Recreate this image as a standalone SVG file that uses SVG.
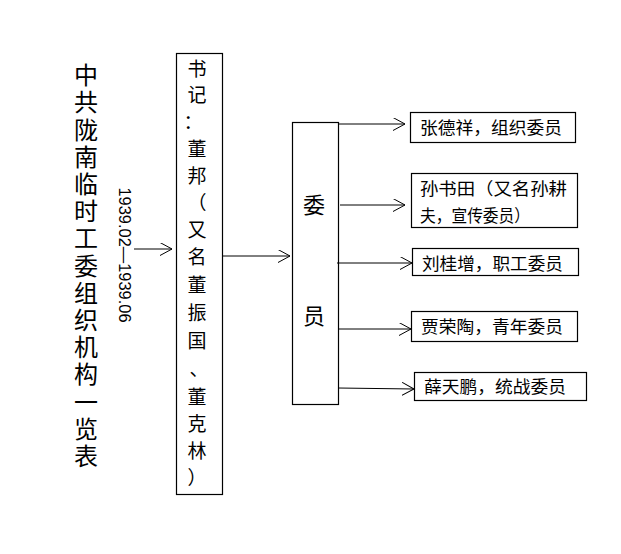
<svg xmlns="http://www.w3.org/2000/svg" width="621" height="554" viewBox="0 0 621 554">
<style>
.box{fill:#fff;stroke:#000;stroke-width:1.2}
.cn{font-family:"Noto Sans CJK SC","Noto Sans CJK JP",sans-serif;fill:#000}
.s{font-size:19px;text-anchor:middle;dominant-baseline:central}
.w{font-size:22px;text-anchor:middle;dominant-baseline:central}
.m{font-size:17px;dominant-baseline:central}
.ln{stroke:#000;stroke-width:1;fill:none}
</style>
<defs>
<marker id="ar" markerUnits="userSpaceOnUse" markerWidth="14" markerHeight="14" refX="12" refY="6.5" orient="auto" viewBox="0 0 14 14">
<path d="M0,0 L12,6.5 L0,13" fill="none" stroke="#000" stroke-width="1"/>
</marker>
</defs>
<rect width="621" height="554" fill="#fff"/>
<g id="title">
<text class="cn" x="86" y="63" font-size="24" writing-mode="vertical-rl" letter-spacing="3.2">中共陇南临时工委组织机构一览表</text>
</g>
<g id="date">
<text x="124" y="255" transform="rotate(90 124 255)" font-family="Liberation Sans, Arial, sans-serif" font-size="16" text-anchor="middle" dominant-baseline="central" textLength="135" lengthAdjust="spacingAndGlyphs">1939.02—1939.06</text>
</g>
<g id="secretary">
<rect class="box" x="176.5" y="53.5" width="46" height="441"/>
<g class="cn s">
<text x="197" y="67">书</text>
<text x="197" y="93">记</text>
<text x="193" y="120">：</text>
<text x="197" y="147">董</text>
<text x="197" y="174">邦</text>
<text x="197" y="201">（</text>
<text x="197" y="228">又</text>
<text x="197" y="255">名</text>
<text x="197" y="283">董</text>
<text x="197" y="311">振</text>
<text x="197" y="339">国</text>
<text x="199" y="367">、</text>
<text x="197" y="395">董</text>
<text x="197" y="422">克</text>
<text x="197" y="449">林</text>
<text x="197" y="476">）</text>
</g>
</g>
<g id="committee">
<rect class="box" x="292.5" y="122.5" width="46" height="282"/>
<text class="cn w" x="314" y="203">委</text>
<text class="cn w" x="314" y="314">员</text>
</g>
<g id="m1">
<rect class="box" x="410.5" y="112.5" width="165" height="30"/>
<text class="cn m" x="420" y="126" textLength="142" lengthAdjust="spacingAndGlyphs">张德祥，组织委员</text>
</g>
<g id="m2">
<rect class="box" x="411.5" y="173.5" width="166" height="54"/>
<text class="cn m" x="420" y="187" textLength="147" lengthAdjust="spacingAndGlyphs">孙书田（又名孙耕</text>
<text class="cn m" x="420" y="214" textLength="110" lengthAdjust="spacingAndGlyphs">夫，宣传委员）</text>
</g>
<g id="m3">
<rect class="box" x="412.5" y="248.5" width="166" height="27"/>
<text class="cn m" x="422" y="262" textLength="141" lengthAdjust="spacingAndGlyphs">刘桂增，职工委员</text>
</g>
<g id="m4">
<rect class="box" x="411.5" y="311.5" width="166" height="30"/>
<text class="cn m" x="421" y="325" textLength="142" lengthAdjust="spacingAndGlyphs">贾荣陶，青年委员</text>
</g>
<g id="m5">
<rect class="box" x="414.5" y="372.5" width="172" height="28"/>
<text class="cn m" x="424" y="385" textLength="142" lengthAdjust="spacingAndGlyphs">薛天鹏，统战委员</text>
</g>
<g id="connectors" class="ln">
<line x1="134" y1="249" x2="172" y2="249" marker-end="url(#ar)"/>
<line x1="222" y1="256" x2="290" y2="256" marker-end="url(#ar)"/>
<line x1="338" y1="124" x2="405" y2="124" marker-end="url(#ar)"/>
<line x1="340" y1="205" x2="405" y2="205" marker-end="url(#ar)"/>
<line x1="337" y1="263" x2="412" y2="263" marker-end="url(#ar)"/>
<line x1="338" y1="329" x2="411" y2="329" marker-end="url(#ar)"/>
<line x1="338" y1="388" x2="414" y2="389" marker-end="url(#ar)"/>
</g>
</svg>
